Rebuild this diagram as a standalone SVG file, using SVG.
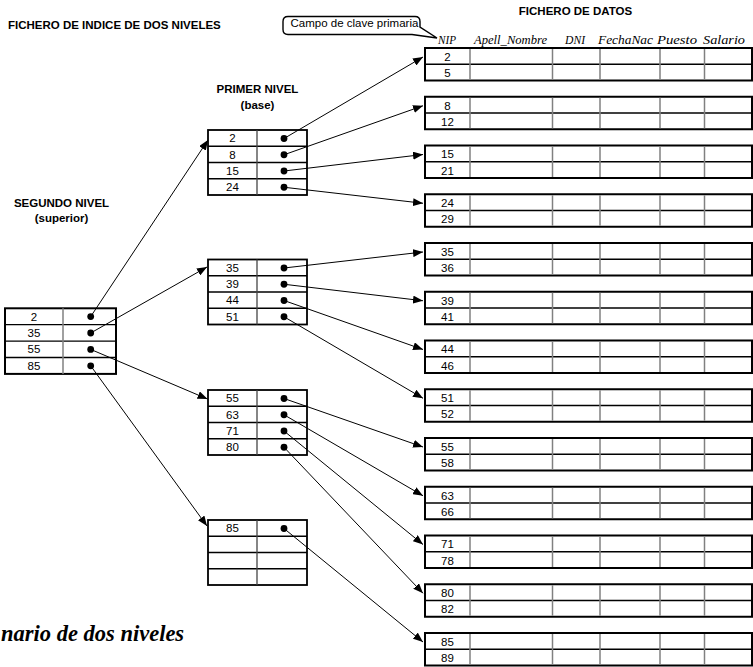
<svg xmlns="http://www.w3.org/2000/svg" width="753" height="667" viewBox="0 0 753 667">
<style>
.t{font-family:"Liberation Sans",Arial,sans-serif;font-size:11.5px;fill:#000}
.c{text-anchor:middle}
.b{font-weight:bold}
.h{font-family:"Liberation Serif","Times New Roman",serif;font-style:italic;font-size:12px;fill:#000}
.ob{fill:#fff;stroke:#000;stroke-width:2}
.hl{stroke:#000;stroke-width:1.3}
.vl{stroke:#808080;stroke-width:1.5}
.dot{fill:#000}
#connectors line{stroke:#000;stroke-width:1;marker-end:url(#ah)}
</style>
<defs>
<marker id="ah" markerUnits="userSpaceOnUse" markerWidth="11" markerHeight="8" refX="10" refY="4" orient="auto"><path d="M0,0 L10,4 L0,8 z" fill="#000"/></marker>
<g id="db">
<rect class="ob" x="425" y="0" width="327" height="32.5"/>
<line class="hl" x1="425" y1="16.25" x2="752" y2="16.25"/>
<line class="vl" x1="470" y1="1" x2="470" y2="31.5"/>
<line class="vl" x1="552.5" y1="1" x2="552.5" y2="31.5"/>
<line class="vl" x1="600" y1="1" x2="600" y2="31.5"/>
<line class="vl" x1="660" y1="1" x2="660" y2="31.5"/>
<line class="vl" x1="704.5" y1="1" x2="704.5" y2="31.5"/>
</g>
<g id="ib">
<rect x="208" y="0" width="99" height="65" fill="#fff" stroke="#000" stroke-width="1.8"/>
<line class="hl" x1="208" y1="16.25" x2="307" y2="16.25"/>
<line class="hl" x1="208" y1="32.5" x2="307" y2="32.5"/>
<line class="hl" x1="208" y1="48.75" x2="307" y2="48.75"/>
<line x1="257" y1="0" x2="257" y2="65" stroke="#444" stroke-width="1.3"/>
</g>
</defs>
<rect width="753" height="667" fill="#fff"/>

<g id="titles">
<text class="t b" x="8" y="29">FICHERO DE INDICE DE DOS NIVELES</text>
<text class="t b c" x="575.5" y="15">FICHERO DE DATOS</text>
<text class="t b c" x="257.5" y="93">PRIMER NIVEL</text>
<text class="t b c" x="257.5" y="109">(base)</text>
<text class="t b c" x="61.5" y="206.5">SEGUNDO NIVEL</text>
<text class="t b c" x="61.5" y="221.5">(superior)</text>
<text x="1" y="641" font-family="'Liberation Serif','Times New Roman',serif" font-weight="bold" font-style="italic" font-size="22.5" fill="#000">nario de dos niveles</text>
</g>

<g id="callout">
<path d="M288,16.5 H415 Q420,16.5 420,21.5 V27 L437,38 L412,34.5 H288 Q283,34.5 283,29.5 V21.5 Q283,16.5 288,16.5 Z" fill="#fff" stroke="#000" stroke-width="1.4"/>
<text class="t" x="290.5" y="26.5" font-size="11">Campo de clave primaria</text>
</g>

<g id="header">
<text class="h" x="438" y="43.5" textLength="18" lengthAdjust="spacingAndGlyphs">NIP</text>
<text class="h" x="474" y="43.5" textLength="73" lengthAdjust="spacingAndGlyphs">Apell_Nombre</text>
<text class="h" x="565" y="43.5" textLength="20" lengthAdjust="spacingAndGlyphs">DNI</text>
<text class="h" x="598" y="43.5" textLength="55" lengthAdjust="spacingAndGlyphs">FechaNac</text>
<text class="h" x="657" y="43.5" textLength="40" lengthAdjust="spacingAndGlyphs">Puesto</text>
<text class="h" x="703" y="43.5" textLength="42" lengthAdjust="spacingAndGlyphs">Salario</text>
</g>

<g id="segundo-nivel">
<rect x="5" y="308.3" width="111" height="65.6" fill="#fff" stroke="#000" stroke-width="2"/>
<line class="hl" x1="5" y1="324.7" x2="116" y2="324.7"/>
<line class="hl" x1="5" y1="341.1" x2="116" y2="341.1"/>
<line class="hl" x1="5" y1="357.5" x2="116" y2="357.5"/>
<line class="vl" x1="63" y1="308.3" x2="63" y2="373.9"/>
<text class="t c" x="34" y="320.6">2</text>
<text class="t c" x="34" y="337">35</text>
<text class="t c" x="34" y="353.4">55</text>
<text class="t c" x="34" y="369.8">85</text>
<circle class="dot" cx="90.7" cy="316.6" r="3.4"/>
<circle class="dot" cx="90.7" cy="333" r="3.4"/>
<circle class="dot" cx="90.7" cy="349.4" r="3.4"/>
<circle class="dot" cx="90.7" cy="365.8" r="3.4"/>
</g>

<g id="primer-nivel-1">
<use href="#ib" y="130"/>
<text class="t c" x="232.5" y="142.3">2</text>
<text class="t c" x="232.5" y="158.55">8</text>
<text class="t c" x="232.5" y="174.8">15</text>
<text class="t c" x="232.5" y="191.05">24</text>
<circle class="dot" cx="284" cy="138.5" r="3.4"/>
<circle class="dot" cx="284" cy="154.75" r="3.4"/>
<circle class="dot" cx="284" cy="171" r="3.4"/>
<circle class="dot" cx="284" cy="187.25" r="3.4"/>
</g>
<g id="primer-nivel-2">
<use href="#ib" y="259.5"/>
<text class="t c" x="232.5" y="271.8">35</text>
<text class="t c" x="232.5" y="288.05">39</text>
<text class="t c" x="232.5" y="304.3">44</text>
<text class="t c" x="232.5" y="320.55">51</text>
<circle class="dot" cx="284" cy="268" r="3.4"/>
<circle class="dot" cx="284" cy="284.25" r="3.4"/>
<circle class="dot" cx="284" cy="300.5" r="3.4"/>
<circle class="dot" cx="284" cy="316.75" r="3.4"/>
</g>
<g id="primer-nivel-3">
<use href="#ib" y="390"/>
<text class="t c" x="232.5" y="402.3">55</text>
<text class="t c" x="232.5" y="418.55">63</text>
<text class="t c" x="232.5" y="434.8">71</text>
<text class="t c" x="232.5" y="451.05">80</text>
<circle class="dot" cx="284" cy="398.5" r="3.4"/>
<circle class="dot" cx="284" cy="414.75" r="3.4"/>
<circle class="dot" cx="284" cy="431" r="3.4"/>
<circle class="dot" cx="284" cy="447.25" r="3.4"/>
</g>
<g id="primer-nivel-4">
<use href="#ib" y="520"/>
<text class="t c" x="232.5" y="532.3">85</text>
<circle class="dot" cx="284" cy="528.5" r="3.4"/>
</g>

<g id="datos-1"><use href="#db" y="48"/><text class="t c" x="447.5" y="60.8">2</text><text class="t c" x="447.5" y="77">5</text></g>
<g id="datos-2"><use href="#db" y="96.75"/><text class="t c" x="447.5" y="109.55">8</text><text class="t c" x="447.5" y="125.75">12</text></g>
<g id="datos-3"><use href="#db" y="145.5"/><text class="t c" x="447.5" y="158.3">15</text><text class="t c" x="447.5" y="174.5">21</text></g>
<g id="datos-4"><use href="#db" y="194.25"/><text class="t c" x="447.5" y="207.05">24</text><text class="t c" x="447.5" y="223.25">29</text></g>
<g id="datos-5"><use href="#db" y="243"/><text class="t c" x="447.5" y="255.8">35</text><text class="t c" x="447.5" y="272">36</text></g>
<g id="datos-6"><use href="#db" y="291.75"/><text class="t c" x="447.5" y="304.55">39</text><text class="t c" x="447.5" y="320.75">41</text></g>
<g id="datos-7"><use href="#db" y="340.5"/><text class="t c" x="447.5" y="353.3">44</text><text class="t c" x="447.5" y="369.5">46</text></g>
<g id="datos-8"><use href="#db" y="389.25"/><text class="t c" x="447.5" y="402.05">51</text><text class="t c" x="447.5" y="418.25">52</text></g>
<g id="datos-9"><use href="#db" y="438"/><text class="t c" x="447.5" y="450.8">55</text><text class="t c" x="447.5" y="467">58</text></g>
<g id="datos-10"><use href="#db" y="486.75"/><text class="t c" x="447.5" y="499.55">63</text><text class="t c" x="447.5" y="515.75">66</text></g>
<g id="datos-11"><use href="#db" y="535.5"/><text class="t c" x="447.5" y="548.3">71</text><text class="t c" x="447.5" y="564.5">78</text></g>
<g id="datos-12"><use href="#db" y="584.25"/><text class="t c" x="447.5" y="597.05">80</text><text class="t c" x="447.5" y="613.25">82</text></g>
<g id="datos-13"><use href="#db" y="633"/><text class="t c" x="447.5" y="645.8">85</text><text class="t c" x="447.5" y="662">89</text></g>

<g id="connectors">
<line x1="90.7" y1="316.6" x2="208" y2="140"/>
<line x1="90.7" y1="333" x2="207" y2="267"/>
<line x1="90.7" y1="349.4" x2="207.5" y2="399"/>
<line x1="90.7" y1="365.8" x2="207" y2="526"/>
<line x1="284" y1="138.5" x2="423" y2="57"/>
<line x1="284" y1="154.75" x2="423" y2="105.75"/>
<line x1="284" y1="171" x2="423" y2="154.5"/>
<line x1="284" y1="187.25" x2="423" y2="203.25"/>
<line x1="284" y1="268" x2="423" y2="252"/>
<line x1="284" y1="284.25" x2="423" y2="300.75"/>
<line x1="284" y1="300.5" x2="423" y2="349.5"/>
<line x1="284" y1="316.75" x2="423" y2="398.25"/>
<line x1="284" y1="398.5" x2="423" y2="447"/>
<line x1="284" y1="414.75" x2="423" y2="495.75"/>
<line x1="284" y1="431" x2="423" y2="544.5"/>
<line x1="284" y1="447.25" x2="423" y2="593.25"/>
<line x1="284" y1="528.5" x2="423" y2="642"/>
</g>
</svg>
